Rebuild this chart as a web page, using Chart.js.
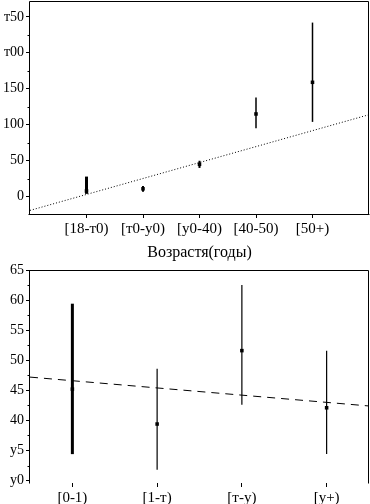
<!DOCTYPE html>
<html>
<head>
<meta charset="utf-8">
<script src="https://cdn.jsdelivr.net/npm/chart.js@4"></script>
<style>
  body { margin: 0; background: #fff; }
  canvas { position: absolute; left: 0; }
  #topChart { top: 0; }
  #bottomChart { top: 262px; }
</style>
</head>
<body>
<canvas id="topChart" width="370" height="262"></canvas>
<canvas id="bottomChart" width="370" height="242"></canvas>
<script>
// top chart data
const topLabels = ['[18-т0)', '[т0-у0)', '[у0-40)', '[40-50)', '[50+)'];
const topMeans = [8, 11, 45, 115, 159];
const topLow = [4, 7, 40, 95, 104];
const topHigh = [28, 15, 50, 138, 242];
const topTrend = [-19, 114];
const topTickValues = [0, 50, 100, 150, 200, 250];
const topTickLabels = ['0', '50', '100', '150', 'т00', 'т50'];
const topMinorTicks = [25, 75, 125, 175, 225];

// bottom chart data
const bottomLabels = ['[0-1)', '[1-т)', '[т-у)', '[у+)'];
const bottomMeans = [45.2, 39.4, 51.6, 42.1];
const bottomLow = [34.4, 31.8, 42.6, 34.4];
const bottomHigh = [59.4, 48.6, 62.5, 51.6];
const bottomTrend = [47.2, 42.4];
const bottomTickValues = [30, 35, 40, 45, 50, 55, 60, 65];
const bottomTickLabels = ['у0', 'у5', '40', '45', '50', '55', '60', '65'];
const bottomMinorTicks = [32.5, 37.5, 42.5, 47.5, 52.5, 57.5, 62.5];

const FONT = '"Liberation Serif", "DejaVu Serif", serif';

// frame around plot + minor ticks on the y axis
const framePlugin = {
    id: 'frame',
    afterDraw(chart, args, opts) {
        const { ctx, chartArea: a } = chart;
        const y = chart.scales.y;
        ctx.save();
        ctx.strokeStyle = '#000';
        ctx.lineWidth = 1;
        ctx.beginPath();
        const l = Math.round(a.left) - 0.5, r = Math.round(a.right) - 0.5;
        const t = Math.round(a.top) + 0.5, b = Math.round(a.bottom) + 0.5;
        ctx.moveTo(l, b); ctx.lineTo(l, t); ctx.lineTo(r, t); ctx.lineTo(r, b);
        if (opts.bottom) { ctx.moveTo(l - 1, b); ctx.lineTo(r + 1, b); }
        (opts.minor || []).forEach((v) => {
            const py = Math.round(y.getPixelForValue(v)) + 0.5;
            ctx.moveTo(l - 2, py); ctx.lineTo(l, py);
        });
        ctx.stroke();
        ctx.restore();
    }
};

function buildChart(id, cfg) {
    const n = cfg.labels.length;
    const datasets = [];
    // trend line
    datasets.push({
        type: 'line',
        data: [{ x: cfg.xMin, y: cfg.trend[0] }, { x: cfg.xMax, y: cfg.trend[1] }],
        borderColor: '#000',
        borderWidth: 1,
        borderDash: cfg.dash,
        pointRadius: 0,
        fill: false,
    });
    // error bars
    for (let i = 0; i < n; i++) {
        datasets.push({
            type: 'line',
            data: [{ x: i + 1, y: cfg.low[i] }, { x: i + 1, y: cfg.high[i] }],
            borderColor: '#000',
            borderWidth: cfg.barWidths[i],
            pointRadius: 0,
            fill: false,
        });
    }
    // means
    datasets.push({
        type: 'scatter',
        data: cfg.means.map((v, i) => ({ x: i + 1, y: v })),
        backgroundColor: '#000',
        borderColor: '#000',
        pointStyle: 'rect',
        pointRadius: 2.5,
        borderWidth: 0,
    });

    return new Chart(document.getElementById(id).getContext('2d'), {
        type: 'scatter',
        data: { datasets },
        options: {
            responsive: false,
            animation: false,
            devicePixelRatio: 1,
            layout: { padding: cfg.padding, autoPadding: false },
            plugins: {
                legend: { display: false },
                tooltip: { enabled: false },
                frame: { bottom: cfg.bottomLine, minor: cfg.minor },
            },
            scales: {
                x: {
                    type: 'linear',
                    min: cfg.xMin,
                    max: cfg.xMax,
                    border: { display: false },
                    grid: { drawOnChartArea: false, drawTicks: true, tickLength: 4, color: '#000' },
                    afterBuildTicks: (scale) => {
                        scale.ticks = cfg.labels.map((_, i) => ({ value: i + 1 }));
                    },
                    afterFit: (scale) => {
                        scale.height = cfg.xHeight;
                        scale.paddingLeft = 0;
                        scale.paddingRight = 0;
                    },
                    ticks: {
                        color: '#000',
                        padding: 2,
                        maxRotation: 0,
                        autoSkip: false,
                        font: { family: FONT, size: 15 },
                        callback: (v) => cfg.labels[v - 1],
                    },
                    title: {
                        display: !!cfg.xTitle,
                        text: cfg.xTitle,
                        color: '#000',
                        padding: { top: 2, bottom: 0 },
                        font: { family: FONT, size: 16 },
                    },
                },
                y: {
                    min: cfg.yMin,
                    max: cfg.yMax,
                    border: { display: false },
                    grid: { drawOnChartArea: false, drawTicks: true, tickLength: 4, color: '#000' },
                    afterBuildTicks: (scale) => {
                        scale.ticks = cfg.tickValues.map((v) => ({ value: v }));
                    },
                    afterFit: (scale) => {
                        scale.width = 30;
                        scale.paddingTop = 0;
                        scale.paddingBottom = 0;
                    },
                    ticks: {
                        color: '#000',
                        padding: 2,
                        autoSkip: false,
                        font: { family: FONT, size: 14 },
                        callback: (v) => cfg.tickLabels[cfg.tickValues.indexOf(v)],
                    },
                },
            },
        },
        plugins: [framePlugin],
    });
}

buildChart('topChart', {
    labels: topLabels, means: topMeans, low: topLow, high: topHigh, trend: topTrend,
    tickValues: topTickValues, tickLabels: topTickLabels, minor: topMinorTicks,
    xMin: 0, xMax: 6, yMin: -24, yMax: 272,
    dash: [1, 2], barWidths: [3, 2, 2, 1.5, 1.5],
    padding: { top: 1, right: 1, left: 0, bottom: 0 }, xHeight: 48,
    xTitle: 'Возрастя(годы)', bottomLine: true,
});

buildChart('bottomChart', {
    labels: bottomLabels, means: bottomMeans, low: bottomLow, high: bottomHigh, trend: bottomTrend,
    tickValues: bottomTickValues, tickLabels: bottomTickLabels, minor: bottomMinorTicks,
    xMin: 0.5, xMax: 4.5, yMin: 29.6, yMax: 65,
    dash: [8, 6], barWidths: [3, 1.2, 1.2, 1.2],
    padding: { top: 8, right: 1, left: 0, bottom: 0 }, xHeight: 21,
    xTitle: '', bottomLine: false,
});
</script>
</body>
</html>
